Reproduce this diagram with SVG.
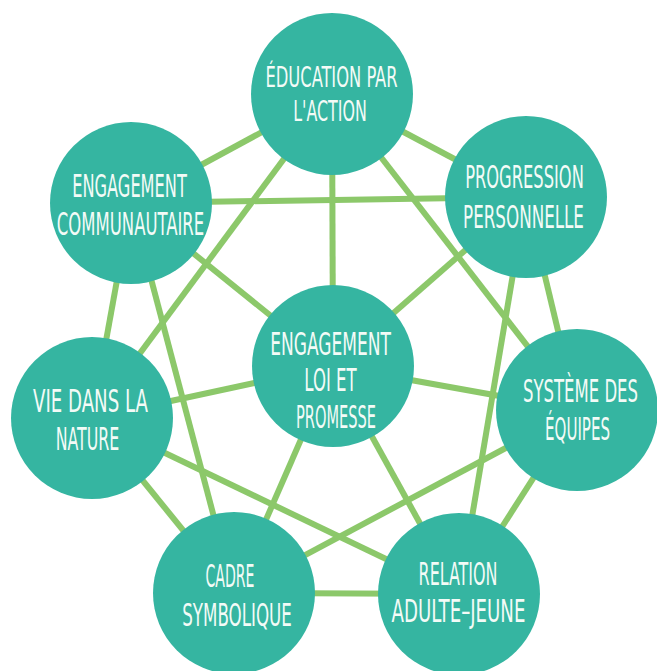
<svg xmlns="http://www.w3.org/2000/svg" width="657" height="671" viewBox="0 0 657 671">
<style>
.edge{stroke:#8CC86A;stroke-width:6;fill:none}
.node{fill:#35B5A1}
.lbl{fill:#F3FBF7;font-family:"DejaVu Sans Condensed","DejaVu Sans",sans-serif;font-size:32px;text-anchor:middle}
.sm{font-size:29px}
</style>
<rect width="657" height="671" fill="#FFFFFF"/>
<g id="connectors">
<line class="edge" x1="332" y1="94" x2="131" y2="203"/>
<line class="edge" x1="332" y1="94" x2="526" y2="197"/>
<line class="edge" x1="332" y1="94" x2="333" y2="366"/>
<line class="edge" x1="332" y1="94" x2="92" y2="418"/>
<line class="edge" x1="332" y1="94" x2="577" y2="410"/>
<line class="edge" x1="131" y1="203" x2="526" y2="197"/>
<line class="edge" x1="131" y1="203" x2="333" y2="366"/>
<line class="edge" x1="131" y1="203" x2="92" y2="418"/>
<line class="edge" x1="131" y1="203" x2="234" y2="593"/>
<line class="edge" x1="526" y1="197" x2="333" y2="366"/>
<line class="edge" x1="526" y1="197" x2="577" y2="410"/>
<line class="edge" x1="526" y1="197" x2="459" y2="594"/>
<line class="edge" x1="92" y1="418" x2="333" y2="366"/>
<line class="edge" x1="92" y1="418" x2="234" y2="593"/>
<line class="edge" x1="92" y1="418" x2="459" y2="594"/>
<line class="edge" x1="577" y1="410" x2="333" y2="366"/>
<line class="edge" x1="577" y1="410" x2="234" y2="593"/>
<line class="edge" x1="577" y1="410" x2="459" y2="594"/>
<line class="edge" x1="234" y1="593" x2="333" y2="366"/>
<line class="edge" x1="234" y1="593" x2="459" y2="594"/>
<line class="edge" x1="459" y1="594" x2="333" y2="366"/>
</g>
<g id="education">
<circle class="node" cx="332" cy="94" r="81"/>
<text class="lbl sm" transform="translate(331.5 87) scale(0.626 1)">ÉDUCATION PAR</text>
<text class="lbl sm" transform="translate(330 121) scale(0.609 1)">L'ACTION</text>
</g>
<g id="communautaire">
<circle class="node" cx="131" cy="203" r="81"/>
<text class="lbl" transform="translate(129.5 197) scale(0.563 1)">ENGAGEMENT</text>
<text class="lbl" transform="translate(130.5 235) scale(0.573 1)">COMMUNAUTAIRE</text>
</g>
<g id="progression">
<circle class="node" cx="526" cy="197" r="81"/>
<text class="lbl" transform="translate(524.5 188) scale(0.566 1)">PROGRESSION</text>
<text class="lbl" transform="translate(523.5 228) scale(0.581 1)">PERSONNELLE</text>
</g>
<g id="loi-promesse">
<circle class="node" cx="333" cy="366" r="81"/>
<text class="lbl" transform="translate(330.5 355) scale(0.592 1)">ENGAGEMENT</text>
<text class="lbl" transform="translate(330.5 391) scale(0.575 1)">LOI ET</text>
<text class="lbl" transform="translate(336 428) scale(0.507 1)">PROMESSE</text>
</g>
<g id="nature">
<circle class="node" cx="92" cy="418" r="81"/>
<text class="lbl" transform="translate(90.5 412) scale(0.631 1)">VIE DANS LA</text>
<text class="lbl" transform="translate(87.5 450) scale(0.55 1)">NATURE</text>
</g>
<g id="equipes">
<circle class="node" cx="577" cy="410" r="81"/>
<text class="lbl" transform="translate(580.5 402) scale(0.573 1)">SYSTÈME DES</text>
<text class="lbl" transform="translate(577.5 440) scale(0.523 1)">ÉQUIPES</text>
</g>
<g id="symbolique">
<circle class="node" cx="234" cy="593" r="81"/>
<text class="lbl" transform="translate(230 587) scale(0.49 1)">CADRE</text>
<text class="lbl" transform="translate(237 626) scale(0.58 1)">SYMBOLIQUE</text>
</g>
<g id="adulte-jeune">
<circle class="node" cx="459" cy="594" r="81"/>
<text class="lbl" transform="translate(458 585) scale(0.554 1)">RELATION</text>
<text class="lbl" transform="translate(458.5 622) scale(0.631 1)">ADULTE–JEUNE</text>
</g>
</svg>
